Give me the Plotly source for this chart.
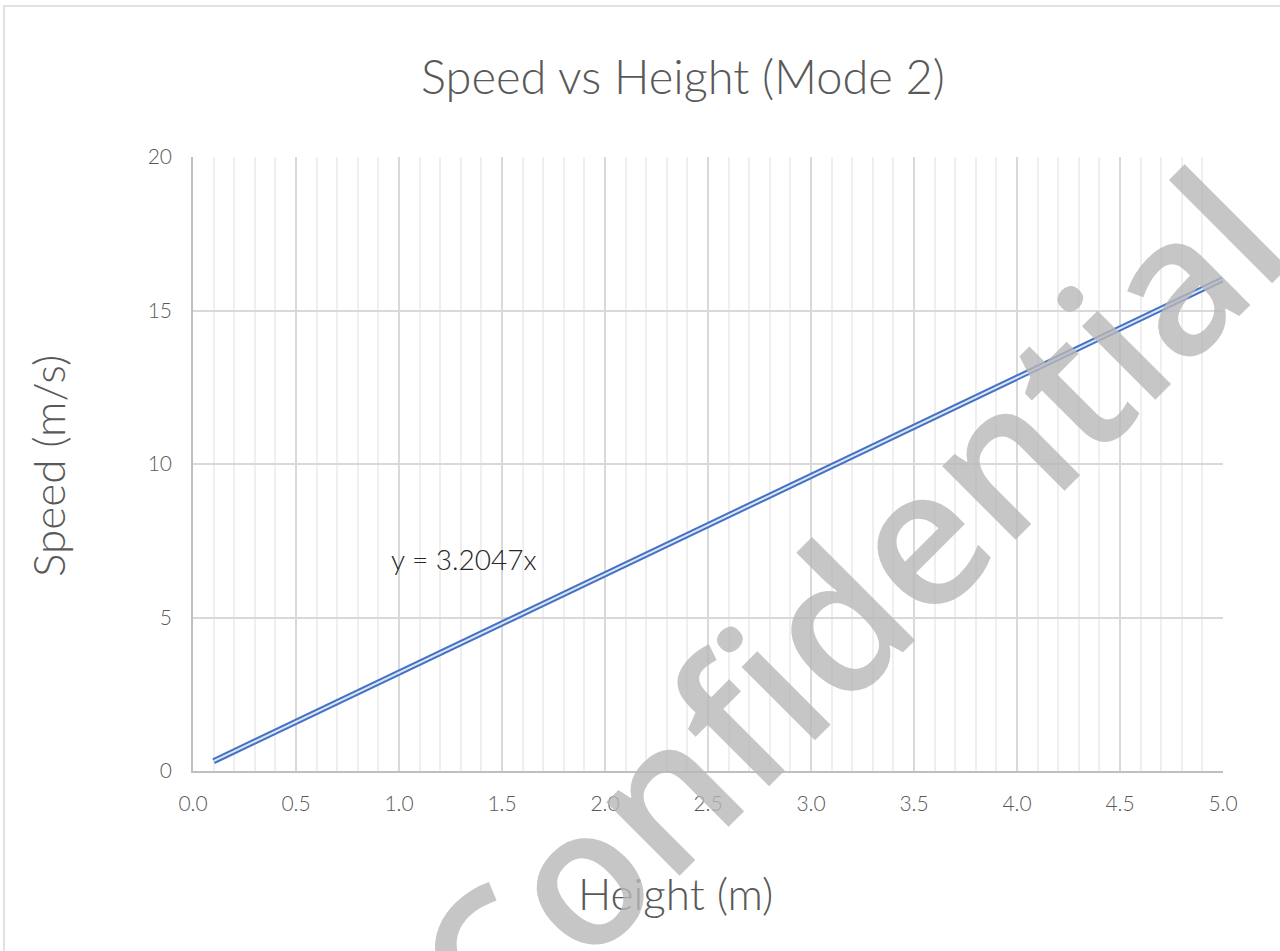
import plotly.graph_objects as go

# Data
height_m = [0.1, 1.0, 2.0, 3.0, 4.0, 5.0]
speed_ms = [0.32, 3.20, 6.41, 9.61, 12.82, 16.02]
x_ticks = [0.0, 0.5, 1.0, 1.5, 2.0, 2.5, 3.0, 3.5, 4.0, 4.5, 5.0]
y_ticks = [0, 5, 10, 15, 20]
title_text = "Speed vs Height (Mode 2)"
x_title = "Height (m)"
y_title = "Speed (m/s)"
equation_text = "y = 3.2047x"
watermark_text = "Confidential"

FONT = "Lato"
GREY = "#595959"

W, H = 1280, 951
L, R, T, B = 193, 57, 157, 180
PW, PH = W - L - R, H - T - B


def px(xp):
    return (xp - L) / PW


def py(yp):
    return (H - B - yp) / PH


fig = go.Figure()
fig.add_trace(go.Scatter(x=height_m, y=speed_ms, mode="lines",
                         line=dict(color="#4472C4", width=6), hoverinfo="skip", showlegend=False))
fig.add_trace(go.Scatter(x=height_m, y=speed_ms, mode="lines",
                         line=dict(color="#DCE6F5", width=2), hoverinfo="skip", showlegend=False))

fig.update_layout(
    width=W, height=H,
    margin=dict(l=L, r=R, t=T, b=B),
    paper_bgcolor="white", plot_bgcolor="rgba(0,0,0,0)",
    title=dict(text=title_text, x=683 / W, xanchor="center", xref="container",
               y=1 - 78 / H, yanchor="middle",
               font=dict(family=FONT, size=47, color=GREY, weight=300)),
    showlegend=False,
    xaxis=dict(range=[0, 5], tickvals=x_ticks, ticktext=[f"{v:.1f}" for v in x_ticks],
               showgrid=True, gridcolor="#D9D9D9", gridwidth=1.5,
               minor=dict(dtick=0.1, tick0=0, showgrid=True, gridcolor="#EFEFEF", gridwidth=1.5),
               showline=True, linecolor="#BFBFBF", linewidth=1.5, zeroline=False,
               ticks="outside", ticklen=13, tickcolor="rgba(0,0,0,0)",
               tickfont=dict(family=FONT, size=21, color=GREY, weight=300)),
    yaxis=dict(range=[0, 20], tickvals=y_ticks,
               showgrid=True, gridcolor="#D9D9D9", gridwidth=1.5,
               showline=True, linecolor="#BFBFBF", linewidth=1.5, zeroline=False,
               ticks="outside", ticklen=15, tickcolor="rgba(0,0,0,0)",
               tickfont=dict(family=FONT, size=21, color=GREY, weight=300)),
)

# outer chart border
fig.add_shape(type="rect", xref="paper", yref="paper",
              x0=px(4), x1=px(1290), y0=py(960), y1=py(6),
              line=dict(color="#D9D9D9", width=1.5), fillcolor="rgba(0,0,0,0)", layer="below")

# axis titles
fig.add_annotation(x=px(48), y=py(466), xref="paper", yref="paper", text=y_title,
                   showarrow=False, textangle=-90, xanchor="center", yanchor="middle",
                   font=dict(family=FONT, size=44, color=GREY, weight=300))
fig.add_annotation(x=px(675), y=py(893), xref="paper", yref="paper", text=x_title,
                   showarrow=False, xanchor="center", yanchor="middle",
                   font=dict(family=FONT, size=44, color=GREY, weight=300))

# trendline equation label
fig.add_annotation(x=0.95, y=6.9, xref="x", yref="y", text=equation_text, showarrow=False,
                   xanchor="left", yanchor="middle",
                   font=dict(family=FONT, size=28, color="#262626", weight=300))

# watermark
fig.add_annotation(x=px(846), y=py(603), xref="paper", yref="paper",
                   text=watermark_text, showarrow=False, textangle=-45,
                   xanchor="center", yanchor="middle", opacity=0.8,
                   font=dict(family="Open Sans", size=192, color="#B8B8B8", weight=600))

fig.write_html("out.html", config={"displayModeBar": False},
               post_script="document.body.style.margin='0px';")
